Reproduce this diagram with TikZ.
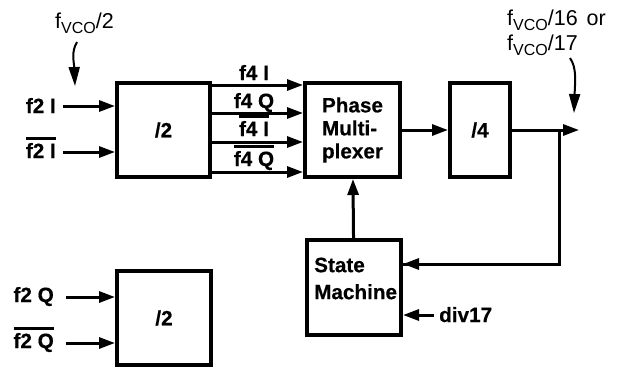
\documentclass[tikz,border=0pt]{standalone}
\usepackage{fontspec}
\setmainfont{Liberation Sans}[BoldFeatures={FakeBold=0.5}]
\usetikzlibrary{arrows.meta}
\newcommand\ovbar[1]{\leavevmode\vbox{\hrule height 2.6pt\kern 3.2pt\hbox{#1}}}
\newcommand\fvco{f\raisebox{-5pt}{\fontsize{16}{17}\selectfont VCO}}
\begin{document}
\begin{tikzpicture}[x=1pt,y=-1pt,
  blk/.style={draw, line width=4pt, inner sep=0pt, minimum width=94pt, minimum height=94pt,
    font=\bfseries\fontsize{20.7}{23}\selectfont, align=left},
  lbl/.style={inner sep=0pt, font=\bfseries\fontsize{20.7}{27}\selectfont},
  vco/.style={inner sep=0pt, font=\fontsize{21.5}{25}\selectfont, align=left},
  arr/.style={line width=3pt, -{Triangle[length=16pt,width=11pt]}},
  carr/.style={line width=2pt, -{Triangle[length=19pt,width=11pt]}},
  ln/.style={line width=3pt}]
\useasboundingbox (0,0) rectangle (621,368);
% blocks
\node[blk, minimum width=93pt] (d2a) at (163.5,130) {/2};
\node[blk, minimum width=95pt] (mux) at (352.5,130) {Phase\\Multi-\\plexer};
\node[blk, minimum width=60pt] (d4) at (480,130) {/4};
\node[blk, minimum height=95pt] (sm) at (354,287.5) {};
\node[lbl, align=left, anchor=west] (smt) at (314,278.5) {State\\Machine};
\node[blk] (d2b) at (164,318) {/2};
% input labels top
\node[lbl, anchor=base east] (f2i) at (56,113) {f2 I};
\node[lbl, anchor=base east] (f2ib) at (56,158) {\ovbar{f2 I}};
\coordinate (i1) at (63,106);
\coordinate (i2) at (63,152);
\draw[arr] (i1) -- (d2a.west |- i1);
\draw[arr] (i2) -- (d2a.west |- i2);
% input labels bottom
\node[lbl, anchor=base east] (f2q) at (54,302) {f2 Q};
\node[lbl, anchor=base east] (f2qb) at (54,348) {\ovbar{f2 Q}};
\coordinate (i3) at (66,297);
\coordinate (i4) at (66,343);
\draw[arr] (i3) -- (d2b.west |- i3);
\draw[arr] (i4) -- (d2b.west |- i4);
% /2 outputs to mux
\coordinate (o1) at (212,85);
\coordinate (o2) at (212,113);
\coordinate (o3) at (212,142);
\coordinate (o4) at (212,172);
\draw[arr] (d2a.east |- o1) -- (mux.west |- o1);
\draw[arr] (d2a.east |- o2) -- (mux.west |- o2);
\draw[arr] (d2a.east |- o3) -- (mux.west |- o3);
\draw[arr] (d2a.east |- o4) -- (mux.west |- o4);
\node[lbl, anchor=base] (l1) at (254,80) {f4 I};
\node[lbl, anchor=base] (l2) at (254,108) {f4 Q};
\node[lbl, anchor=base] (l3) at (254,136) {\ovbar{f4 I}};
\node[lbl, anchor=base] (l4) at (254,166) {\ovbar{f4 Q}};
% mux -> /4 -> out
\draw[arr] (mux) -- (d4);
\coordinate (out) at (579,130);
\coordinate (tap) at (559,130);
\draw[arr] (d4) -- (out);
\draw[ln] (tap) |- (sm.east |- 0,264) coordinate (fb);
\draw[arr] (tap |- fb) -- (sm.east |- fb);
\draw[arr] (sm) -- (mux);
% div17
\node[lbl, anchor=base west] (div) at (439,322) {div17};
\coordinate (dv) at (434,315);
\draw[arr] (dv) -- (sm.east |- dv);
% fvco labels
\node[vco, anchor=base west] (fv2) at (55,28) {\fvco/2};
\node[vco, anchor=base west] (fv16) at (507,25) {\fvco/16\hspace{9pt}or};
\node[vco, anchor=base west] (fv17) at (507,50) {\fvco/17};
\coordinate (c1s) at (77,42);
\coordinate (c1e) at (75,86);
\draw[carr] (c1s) .. controls (71,52) and (74,62) .. (c1e);
\coordinate (c2s) at (570,58);
\coordinate (c2e) at (574,113);
\draw[carr] (c2s) .. controls (577,68) and (575,82) .. (c2e);
\end{tikzpicture}
\end{document}
